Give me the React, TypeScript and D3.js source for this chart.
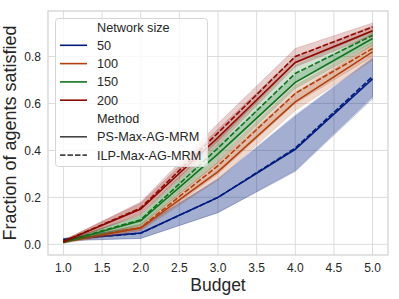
import * as d3 from "d3";

const budgets = [1, 2, 3, 4, 5];
const sizes = ["50", "100", "150", "200"];
const colors = ["#001c7f", "#b1400d", "#12711c", "#8c0800"];
const methods = ["PS-Max-AG-MRM", "ILP-Max-AG-MRM"];

// mean per network size, PS method (solid)
const psMean = [
  [0.02, 0.048, 0.2, 0.405, 0.705],
  [0.01, 0.07, 0.31, 0.607, 0.82],
  [0.01, 0.1, 0.385, 0.69, 0.877],
  [0.012, 0.15, 0.455, 0.775, 0.91],
];
const psLow = [
  [0.015, 0.025, 0.135, 0.31, 0.62],
  [0.005, 0.058, 0.275, 0.57, 0.784],
  [0.005, 0.08, 0.35, 0.664, 0.848],
  [0.007, 0.125, 0.423, 0.756, 0.89],
];
const psHigh = [
  [0.025, 0.075, 0.275, 0.545, 0.79],
  [0.015, 0.083, 0.35, 0.645, 0.85],
  [0.015, 0.12, 0.42, 0.72, 0.9],
  [0.017, 0.175, 0.49, 0.8, 0.93],
];
// ILP method (dashed)
const ilpMean = [
  [0.02, 0.047, 0.2, 0.41, 0.715],
  [0.01, 0.072, 0.335, 0.643, 0.834],
  [0.01, 0.105, 0.41, 0.728, 0.89],
  [0.012, 0.155, 0.475, 0.8, 0.926],
];
const ilpLow = [
  [0.015, 0.025, 0.135, 0.315, 0.63],
  [0.005, 0.06, 0.3, 0.6, 0.8],
  [0.005, 0.085, 0.375, 0.69, 0.86],
  [0.007, 0.13, 0.44, 0.77, 0.905],
];
const ilpHigh = [
  [0.025, 0.072, 0.28, 0.55, 0.795],
  [0.015, 0.085, 0.37, 0.678, 0.86],
  [0.015, 0.125, 0.45, 0.763, 0.91],
  [0.017, 0.18, 0.515, 0.834, 0.943],
];

const xTicks = [1, 1.5, 2, 2.5, 3, 3.5, 4, 4.5, 5];
const yTicks = [0, 0.2, 0.4, 0.6, 0.8];

const W = 399, H = 299;
const M = { left: 48, right: 388, top: 11, bottom: 255 };
const FONT = "'Liberation Sans', Arial, sans-serif";

export default function App() {
  const x = d3.scaleLinear().domain([0.8, 5.2]).range([M.left, M.right]);
  const y = d3.scaleLinear().domain([-0.0455, 0.994]).range([M.bottom, M.top]);

  const line = d3.line<number>().x((_, i) => x(budgets[i])).y((d) => y(d));
  const band = (lo: number[], hi: number[]) =>
    d3.area<number>()
      .x((_, i) => x(budgets[i]))
      .y0((_, i) => y(lo[i]))
      .y1((_, i) => y(hi[i]))(budgets) ?? "";

  const series: { mean: number[]; lo: number[]; hi: number[]; color: string; dash: string | undefined }[] = [];
  sizes.forEach((_, k) => {
    series.push({ mean: psMean[k], lo: psLow[k], hi: psHigh[k], color: colors[k], dash: undefined });
    series.push({ mean: ilpMean[k], lo: ilpLow[k], hi: ilpHigh[k], color: colors[k], dash: "5.5,2" });
  });

  const legendRows: { label: string; color?: string; dash?: string }[] = [
    { label: "Network size" },
    ...sizes.map((s, i) => ({ label: s, color: colors[i] })),
    { label: "Method" },
    { label: methods[0], color: "#444444" },
    { label: methods[1], color: "#444444", dash: "5.5,2" },
  ];

  return (
    <svg width={W} height={H} style={{ position: "absolute", left: 0, top: 0, background: "#fff" }} fontFamily={FONT}>
      <defs>
        <clipPath id="plot">
          <rect x={M.left} y={M.top} width={M.right - M.left} height={M.bottom - M.top} />
        </clipPath>
      </defs>
      {/* grid */}
      {xTicks.map((t) => (
        <line key={"gx" + t} x1={x(t)} x2={x(t)} y1={M.top} y2={M.bottom} stroke="#dcdcdc" strokeWidth={1} />
      ))}
      {yTicks.map((t) => (
        <line key={"gy" + t} x1={M.left} x2={M.right} y1={y(t)} y2={y(t)} stroke="#dcdcdc" strokeWidth={1} />
      ))}
      <g clipPath="url(#plot)">
        {series.map((s, i) => (
          <g key={i}>
            <path d={band(s.lo, s.hi)} fill={s.color} fillOpacity={0.2} stroke={s.color} strokeOpacity={0.15} strokeWidth={1} />
            <path d={line(s.mean) ?? ""} fill="none" stroke={s.color} strokeWidth={1.6} strokeDasharray={s.dash} />
          </g>
        ))}
      </g>
      {/* frame */}
      <rect x={M.left} y={M.top} width={M.right - M.left} height={M.bottom - M.top} fill="none" stroke="#d0d0d0" strokeWidth={1.2} />
      {/* tick labels */}
      {xTicks.map((t) => (
        <text key={"tx" + t} x={x(t)} y={271.5} textAnchor="middle" fontSize={12} fill="#262626">
          {t.toFixed(1)}
        </text>
      ))}
      {yTicks.map((t) => (
        <text key={"ty" + t} x={41} y={y(t) + 4.3} textAnchor="end" fontSize={12} fill="#262626">
          {t.toFixed(1)}
        </text>
      ))}
      <text x={(M.left + M.right) / 2} y={291} textAnchor="middle" fontSize={17.5} fill="#262626">
        Budget
      </text>
      <text transform={`translate(15.5,${(M.top + M.bottom) / 2}) rotate(-90)`} textAnchor="middle" fontSize={18} fill="#262626">
        Fraction of agents satisfied
      </text>
      {/* legend */}
      <rect x={55.5} y={18.5} width={152} height={148} rx={3} fill="#fff" fillOpacity={0.8} stroke="#d6d6d6" strokeWidth={1} />
      {legendRows.map((r, i) => {
        const cy = 27 + i * 18.3;
        return (
          <g key={"lg" + i}>
            {r.color && (
              <line x1={60} x2={87} y1={cy} y2={cy} stroke={r.color} strokeWidth={1.6} strokeDasharray={r.dash} />
            )}
            <text x={97} y={cy + 4.5} fontSize={12.7} fill="#262626">
              {r.label}
            </text>
          </g>
        );
      })}
    </svg>
  );
}
